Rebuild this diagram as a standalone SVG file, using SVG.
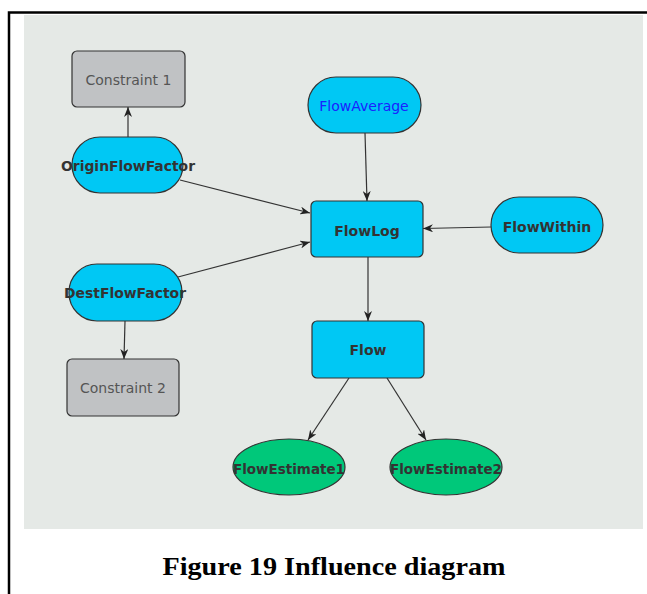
<svg xmlns="http://www.w3.org/2000/svg" width="647" height="594" viewBox="0 0 647 594">
  <style>
    .frame { fill: none; stroke: #000; stroke-width: 2.5; }
    .panel { fill: #e5e9e6; }
    .aux { fill: #00c8f4; stroke: #333; stroke-width: 1.2; }
    .obj { fill: #00c87a; stroke: #333; stroke-width: 1.2; }
    .con { fill: #c0c2c4; stroke: #333; stroke-width: 1.2; }
    .lbl { font-family: "DejaVu Sans", "Liberation Sans", sans-serif; font-size: 14px; text-anchor: middle; }
    .b { font-weight: bold; fill: #333; }
    .g { fill: #555; }
    .blue { fill: #1a22ff; }
    .edge { stroke: #333; stroke-width: 1.2; fill: none; marker-end: url(#arr); }
    .cap { font-family: "Liberation Serif", "Times New Roman", serif; font-size: 26px; font-weight: bold; text-anchor: middle; fill: #000; }
  </style>
  <defs>
    <marker id="arr" viewBox="0 0 10 8" refX="10" refY="4" markerWidth="10" markerHeight="8" markerUnits="userSpaceOnUse" orient="auto">
      <path d="M0,0 L10,4 L0,8 L3,4 z" fill="#222"/>
    </marker>
  </defs>

  <!-- page frame and canvas -->
  <path class="frame" d="M9,594 V12.5 H647"/>
  <rect class="panel" x="24" y="15" width="619" height="514"/>

  <!-- connectors -->
  <g id="connectors">
    <line class="edge" x1="128" y1="137" x2="128" y2="107"/>
    <line class="edge" x1="180" y1="180" x2="310" y2="213"/>
    <line class="edge" x1="178" y1="277" x2="310" y2="242"/>
    <line class="edge" x1="365" y1="133" x2="367" y2="201"/>
    <line class="edge" x1="491" y1="227" x2="423" y2="228.5"/>
    <line class="edge" x1="368" y1="257" x2="368" y2="321"/>
    <line class="edge" x1="125" y1="321" x2="124" y2="359"/>
    <line class="edge" x1="349" y1="378" x2="308" y2="440"/>
    <line class="edge" x1="387" y1="378" x2="426" y2="440"/>
  </g>

  <!-- nodes -->
  <g id="constraint1">
    <rect class="con" x="72" y="51" width="113" height="56" rx="5"/>
    <text class="lbl g" x="128.5" y="85">Constraint 1</text>
  </g>
  <g id="originFlowFactor">
    <rect class="aux" x="72" y="137" width="111" height="56" rx="28"/>
    <text class="lbl b" x="128" y="171" textLength="134" lengthAdjust="spacingAndGlyphs">OriginFlowFactor</text>
  </g>
  <g id="flowAverage">
    <rect class="aux" x="308" y="77" width="113" height="56" rx="28"/>
    <text class="lbl blue" x="364" y="110.5">FlowAverage</text>
  </g>
  <g id="flowLog">
    <rect class="aux" x="311" y="201" width="112" height="56" rx="5"/>
    <text class="lbl b" x="367" y="236">FlowLog</text>
  </g>
  <g id="flowWithin">
    <rect class="aux" x="491" y="197" width="112" height="56" rx="28"/>
    <text class="lbl b" x="547" y="232">FlowWithin</text>
  </g>
  <g id="destFlowFactor">
    <rect class="aux" x="69" y="264" width="113" height="57" rx="28"/>
    <text class="lbl b" x="125" y="298" textLength="122" lengthAdjust="spacingAndGlyphs">DestFlowFactor</text>
  </g>
  <g id="constraint2">
    <rect class="con" x="67" y="359" width="112" height="57" rx="5"/>
    <text class="lbl g" x="123" y="393">Constraint 2</text>
  </g>
  <g id="flow">
    <rect class="aux" x="312" y="321" width="112" height="57" rx="5"/>
    <text class="lbl b" x="368" y="355">Flow</text>
  </g>
  <g id="flowEstimate1">
    <ellipse class="obj" cx="289" cy="467" rx="56" ry="28"/>
    <text class="lbl b" x="289" y="474" textLength="112" lengthAdjust="spacingAndGlyphs">FlowEstimate1</text>
  </g>
  <g id="flowEstimate2">
    <ellipse class="obj" cx="446" cy="467" rx="56" ry="28"/>
    <text class="lbl b" x="446" y="474" textLength="112" lengthAdjust="spacingAndGlyphs">FlowEstimate2</text>
  </g>

  <!-- caption -->
  <text class="cap" x="334" y="575" textLength="343" lengthAdjust="spacingAndGlyphs">Figure 19 Influence diagram</text>
</svg>
